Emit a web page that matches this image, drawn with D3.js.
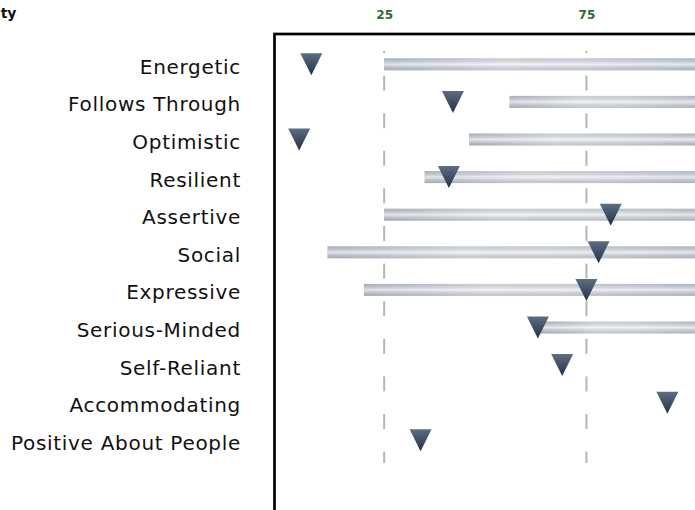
<!DOCTYPE html>
<html>
<head>
<meta charset="utf-8">
<script src="https://cdn.jsdelivr.net/npm/d3@7"></script>
<style>
    html, body { margin: 0; padding: 0; background: #ffffff; }
    svg { display: block; }
</style>
</head>
<body>
<div id="chart-container"></div>
<script>
// DATA
// ----------------------------------------
const TRAITS = [
    "Energetic", "Follows Through", "Optimistic", "Resilient", "Assertive", "Social",
    "Expressive", "Serious-Minded", "Self-Reliant", "Accommodating", "Positive About People"
];
const SCORES = [7, 42, 4, 41, 81, 78, 75, 63, 69, 95, 34];
// shaded range per trait (null = no range shown)
const RANGE_START = [25, 56, 46, 35, 25, 11, 20, 63, null, null, null];
const RANGE_END = [105, 105, 105, 105, 105, 105, 105, 105, null, null, null];
const TICK_VALUES = [25, 75];
const TITLE = "Personality";

// LAYOUT
// ----------------------------------------
const WIDTH = 695;
const HEIGHT = 510;
const FRAME_LEFT = 274.5;
const FRAME_TOP = 34;
const ROW_FIRST = 64.3;
const ROW_LAST = 440.3;
const GRID_TOP = 51;
const GRID_BOTTOM = 463;
const BAR_HEIGHT = 12;
const MARKER_SIZE = 22;

// MAIN FUNCTION
// ----------------------------------------
function drawChart() {

    const svg = d3.select("#chart-container")
        .append("svg")
        .attr("width", WIDTH)
        .attr("height", HEIGHT)
        .style("font-family", "'DejaVu Sans', Verdana, sans-serif");

    const defs = svg.append("defs");
    createGradients(defs);

    // Scales
    const xScale = d3.scaleLinear()
        .domain([0, 100])
        .range([283, 687.6]);

    const yScale = d3.scalePoint()
        .domain(TRAITS)
        .range([ROW_FIRST, ROW_LAST]);

    const step = yScale.step();

    // Title (cut off at left edge like the original)
    svg.append("text")
        .attr("x", 16.5)
        .attr("y", 18)
        .attr("text-anchor", "end")
        .style("font-weight", "bold")
        .style("font-size", "14px")
        .style("fill", "#111")
        .text(TITLE);

    // Frame of the plot
    svg.append("rect")
        .attr("x", FRAME_LEFT)
        .attr("y", FRAME_TOP)
        .attr("width", 700)
        .attr("height", 600)
        .style("fill", "none")
        .style("stroke", "#000")
        .style("stroke-width", 2.7);

    // Top axis labels
    const xAxis = d3.axisTop(xScale)
        .tickValues(TICK_VALUES)
        .tickSize(0)
        .tickPadding(0);

    svg.append("g")
        .attr("transform", "translate(0, 19)")
        .call(xAxis)
        .call(g => g.select(".domain").remove())
        .call(g => g.selectAll("text")
            .attr("dy", 0)
            .style("font-family", "'DejaVu Sans', Verdana, sans-serif")
            .style("font-weight", "bold")
            .style("font-size", "12px")
            .style("fill", "#2f6b2f"));

    // Dashed grid lines, one dash in each gap between rows
    const gaps = d3.range(-1, TRAITS.length).map(i => ROW_FIRST + i * step + step / 2);
    const gridGroup = svg.append("g").attr("class", "grid");
    TICK_VALUES.forEach(tick => {
        gridGroup.selectAll(null)
            .data(gaps)
            .enter().append("line")
            .attr("x1", xScale(tick))
            .attr("x2", xScale(tick))
            .attr("y1", d => Math.max(GRID_TOP, d - 7.5))
            .attr("y2", d => Math.min(GRID_BOTTOM, d + 7.5))
            .style("stroke", "#aabdaa")
            .style("stroke-width", 2);
    });

    // Row labels
    svg.append("g")
        .selectAll("text")
        .data(TRAITS)
        .enter().append("text")
        .attr("x", 241)
        .attr("y", d => yScale(d) + 9.5)
        .attr("text-anchor", "end")
        .style("font-size", "20px")
        .style("letter-spacing", "0.7px")
        .style("fill", "#111")
        .text(d => d);

    // Range bars
    const barData = TRAITS
        .map((trait, i) => ({ trait, start: RANGE_START[i], end: RANGE_END[i] }))
        .filter(d => d.start !== null);

    const bars = svg.append("g").attr("class", "bars")
        .selectAll("g")
        .data(barData)
        .enter().append("g");

    bars.append("rect")
        .attr("x", d => xScale(d.start))
        .attr("y", d => yScale(d.trait) - BAR_HEIGHT / 2)
        .attr("width", d => xScale(d.end) - xScale(d.start))
        .attr("height", BAR_HEIGHT)
        .style("fill", "url(#bar-horizontal)");

    bars.append("rect")
        .attr("x", d => xScale(d.start))
        .attr("y", d => yScale(d.trait) - BAR_HEIGHT / 2)
        .attr("width", d => xScale(d.end) - xScale(d.start))
        .attr("height", BAR_HEIGHT)
        .style("fill", "url(#bar-vertical)");

    // Score markers (downward triangles)
    const half = MARKER_SIZE / 2;
    svg.append("g").attr("class", "markers")
        .selectAll("path")
        .data(TRAITS.map((trait, i) => ({ trait, score: SCORES[i] })))
        .enter().append("path")
        .attr("transform", d => `translate(${xScale(d.score)}, ${yScale(d.trait)})`)
        .attr("d", `M${-half},${-half}L${half},${-half}L0,${half}Z`)
        .style("fill", "url(#marker-gradient)");
};

// HELPER FUNCTIONS
// ----------------------------------------
function createGradients(defs) {
    const barH = defs.append("linearGradient")
        .attr("id", "bar-horizontal")
        .attr("x1", "0").attr("y1", "0")
        .attr("x2", "1").attr("y2", "0");
    barH.append("stop").attr("offset", "0%").attr("stop-color", "#aeb5bf");
    barH.append("stop").attr("offset", "35%").attr("stop-color", "#dcdfe3");
    barH.append("stop").attr("offset", "60%").attr("stop-color", "#d6d9de");
    barH.append("stop").attr("offset", "100%").attr("stop-color", "#b6bdc6");

    const barV = defs.append("linearGradient")
        .attr("id", "bar-vertical")
        .attr("x1", "0").attr("y1", "0")
        .attr("x2", "0").attr("y2", "1");
    barV.append("stop").attr("offset", "0%").attr("stop-color", "#9aa3ad").attr("stop-opacity", 0.3);
    barV.append("stop").attr("offset", "50%").attr("stop-color", "#ffffff").attr("stop-opacity", 0.65);
    barV.append("stop").attr("offset", "100%").attr("stop-color", "#8e97a2").attr("stop-opacity", 0.35);

    const marker = defs.append("linearGradient")
        .attr("id", "marker-gradient")
        .attr("x1", "0").attr("y1", "0")
        .attr("x2", "0").attr("y2", "1");
    marker.append("stop").attr("offset", "0%").attr("stop-color", "#5d6d82");
    marker.append("stop").attr("offset", "100%").attr("stop-color", "#223146");
};

// INIT
// ----------------------------------------
drawChart();
</script>
</body>
</html>
